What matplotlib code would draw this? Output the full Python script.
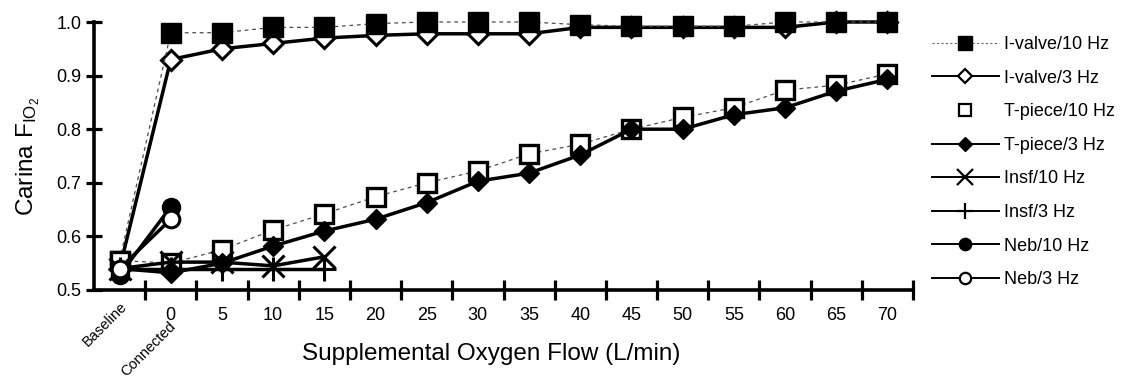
import numpy as np
import matplotlib
matplotlib.use("Agg")
import matplotlib.pyplot as plt
from matplotlib.lines import Line2D

plt.rcParams['font.family'] = ['Liberation Sans', 'DejaVu Sans']
plt.rcParams['mathtext.fontset'] = 'custom'
plt.rcParams['mathtext.rm'] = 'Liberation Sans'
plt.rcParams['mathtext.it'] = 'Liberation Sans:italic'

# categories: Baseline, then supplemental flow 0..70 L/min
categories = ['Baseline', '0', '5', '10', '15', '20', '25', '30', '35',
              '40', '45', '50', '55', '60', '65', '70']

ivalve_10 = [0.555, 0.98, 0.98, 0.99, 0.99, 0.997, 1.0, 1.0, 1.0, 0.995,
             0.992, 0.992, 0.992, 1.0, 1.0, 1.0]
ivalve_3 = [0.54, 0.93, 0.95, 0.96, 0.97, 0.975, 0.978, 0.978, 0.978, 0.99,
            0.99, 0.99, 0.99, 0.99, 1.0, 1.0]
tpiece_10 = [0.555, 0.55, 0.575, 0.612, 0.642, 0.674, 0.70, 0.722, 0.754,
             0.772, 0.80, 0.822, 0.84, 0.873, 0.882, 0.903]
tpiece_3 = [0.54, 0.532, 0.55, 0.582, 0.61, 0.632, 0.663, 0.703, 0.718,
            0.752, 0.80, 0.80, 0.827, 0.84, 0.871, 0.893]
insf_10 = [0.54, 0.552, 0.552, 0.545, 0.562]
insf_3 = [0.54, 0.54, 0.54, 0.54, 0.54]
neb_10 = [0.528, 0.655]
neb_3 = [0.54, 0.632]

fig = plt.figure(figsize=(11.28, 3.83), dpi=100)
ax = fig.add_axes([94 / 1128, 93 / 383, 819 / 1128, 268 / 383])

x = np.arange(len(categories))
solid = dict(color='black', lw=2.5, solid_joinstyle='miter')
thin = dict(color='0.3', lw=0.9, dashes=(3, 3))

# (label, data, line kw, marker kw) in legend order
series = [
    ('I-valve/10 Hz', ivalve_10, thin, dict(marker='s', ms=14, mfc='black', mec='black', mew=1)),
    ('I-valve/3 Hz', ivalve_3, solid, dict(marker='D', ms=10, mfc='white', mec='black', mew=2.2)),
    ('T-piece/10 Hz', tpiece_10, thin, dict(marker='s', ms=13, mfc='white', mec='black', mew=2.4)),
    ('T-piece/3 Hz', tpiece_3, solid, dict(marker='D', ms=10, mfc='black', mec='black', mew=1)),
    ('Insf/10 Hz', insf_10, solid, dict(marker='x', ms=16, mec='black', mew=2.2)),
    ('Insf/3 Hz', insf_3, solid, dict(marker='+', ms=17, mec='black', mew=2.2)),
    ('Neb/10 Hz', neb_10, solid, dict(marker='o', ms=13, mfc='black', mec='black', mew=1)),
    ('Neb/3 Hz', neb_3, solid, dict(marker='o', ms=12, mfc='white', mec='black', mew=2.2)),
]

# drawing order (later on top)
order = [1, 0, 2, 3, 4, 5, 6, 7]
for z, i in enumerate(order):
    label, data, lkw, mkw = series[i]
    ax.plot(x[:len(data)], data, clip_on=False, zorder=3 + z, **lkw, **mkw)

ax.set_xlim(-0.5, 15.5)
ax.set_ylim(0.5, 1.0)
ax.spines['top'].set_visible(False)
ax.spines['right'].set_visible(False)
ax.spines['left'].set_linewidth(2.6)
ax.spines['bottom'].set_linewidth(2.6)

ax.set_yticks(np.arange(0.5, 1.01, 0.1))
ax.set_yticklabels([f'{v:.1f}' for v in np.arange(0.5, 1.01, 0.1)])
ax.tick_params(axis='y', direction='inout', length=12, width=2.3, pad=3,
               labelsize=13)

ax.set_xticks(x)
ax.set_xticklabels([''] + categories[1:])
ax.set_xticks(np.arange(0.5, 15.6, 1.0), minor=True)
ax.tick_params(axis='x', which='major', length=0, pad=12, labelsize=13)
ax.tick_params(axis='x', which='minor', direction='inout', length=14, width=2.3)

tr = ax.get_xaxis_transform()
ax.text(0.0, -0.035, 'Baseline', transform=tr, rotation=45, ha='right',
        va='top', rotation_mode='anchor', fontsize=10.5)
ax.text(0.95, -0.11, 'Connected', transform=tr, rotation=45, ha='right',
        va='top', rotation_mode='anchor', fontsize=10.5)

ax.set_xlabel('Supplemental Oxygen Flow (L/min)', fontsize=17.5, labelpad=14)
ax.xaxis.label.set_x(0.485)
ax.set_ylabel(r'Carina F$_{\mathregular{IO}_2}$', fontsize=17.5, labelpad=10)

# legend with thinner lines and smaller markers
handles = []
for label, data, lkw, mkw in series:
    hk = dict(mkw)
    hk['ms'] = mkw['ms'] * 0.68
    hk['mew'] = min(mkw['mew'], 1.6)
    if lkw is thin:
        if label.startswith('T-piece'):
            h = Line2D([], [], linestyle='none', **hk)
        else:
            h = Line2D([], [], color='0.4', lw=0.8, dashes=(2, 2), **hk)
    else:
        h = Line2D([], [], color='black', lw=1.4, **hk)
    handles.append(h)
fig.legend(handles, [s[0] for s in series], loc='upper left',
           bbox_to_anchor=(932 / 1128, 1 - 36 / 383), frameon=False,
           fontsize=13, handlelength=3.7, handletextpad=0.3,
           labelspacing=0.92, borderpad=0, borderaxespad=0)

fig.savefig('out.png', dpi=100)
